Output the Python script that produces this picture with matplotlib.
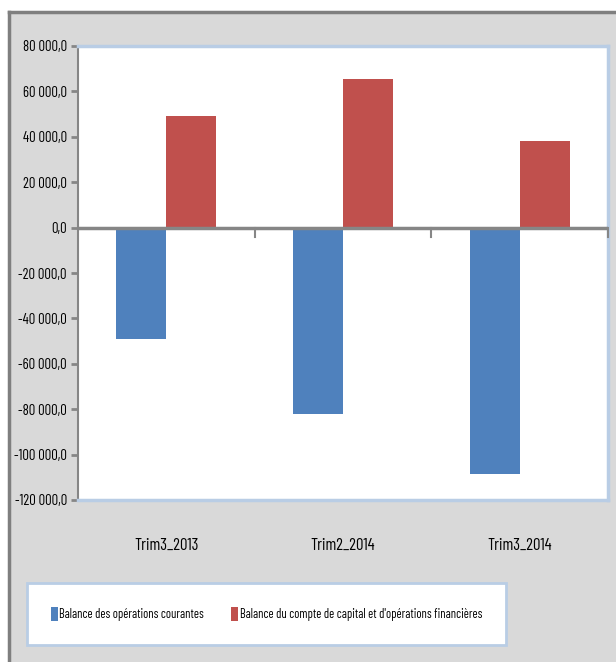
import matplotlib
matplotlib.use("Agg")
import matplotlib.pyplot as plt
from matplotlib.patches import Rectangle
from matplotlib.ticker import FuncFormatter, MultipleLocator
import numpy as np

categories = ["Trim3_2013", "Trim2_2014", "Trim3_2014"]
courantes = [-49000, -82000, -108400]
capital = [49000, 65600, 38000]
series_names = ["Balance des opérations courantes",
                "Balance du compte de capital et d'opérations financières"]

BLUE = "#4f81bd"
RED = "#c0504d"
GRID_BLUE = "#b9cde5"
AXIS_GRAY = "#868686"
FONT = ["Barlow Condensed", "DejaVu Sans"]

plt.rcParams["font.family"] = FONT


def fr_fmt(v, _pos):
    s = f"{abs(v):,.1f}".replace(",", " ").replace(".", ",")
    return ("-" if v < 0 else "") + s


fig = plt.figure(figsize=(6.16, 6.62), dpi=100)
fig.patch.set_facecolor("white")

# grey chart area with dark border on top and left (drawn in a background axes)
bg = fig.add_axes([0, 0, 1, 1], zorder=-1)
bg.set_xlim(0, 616)
bg.set_ylim(662, 0)
bg.axis("off")
bg.add_patch(Rectangle((9, 12), 607, 650, facecolor="#d9d9d9", edgecolor="none"))
bg.plot([9, 616], [12, 12], color="#7f7f7f", lw=2.5)
bg.plot([9, 9], [12, 662], color="#7f7f7f", lw=2.5)

ax = fig.add_axes([78 / 616, 1 - 500 / 662, 530 / 616, 454 / 662])
ax.set_facecolor("white")

x = np.arange(len(categories))
w = 0.283
ax.bar(x - w / 2, courantes, w, color=BLUE, label=series_names[0], zorder=2)
ax.bar(x + w / 2, capital, w, color=RED, label=series_names[1], zorder=2)

ax.set_xlim(-0.5, len(categories) - 0.5)
ax.set_ylim(-120000, 80000)
ax.yaxis.set_major_locator(MultipleLocator(20000))
ax.yaxis.set_major_formatter(FuncFormatter(fr_fmt))

for side in ["top", "bottom", "right"]:
    ax.spines[side].set_color(GRID_BLUE)
    ax.spines[side].set_linewidth(2.5)
ax.spines["left"].set_color(AXIS_GRAY)
ax.spines["left"].set_linewidth(1.5)

ax.tick_params(axis="y", length=5, width=2, color=AXIS_GRAY, labelsize=10.5, pad=3)
ax.set_xticks(x)
ax.set_xticklabels(categories)
ax.tick_params(axis="x", length=0, labelsize=12, pad=27)

# horizontal axis at zero with category separators
ax.axhline(0, color=AXIS_GRAY, lw=2.5, zorder=3)
for b in np.arange(0.5, len(categories), 1.0):
    ax.plot([b, b], [0, -4000], color=AXIS_GRAY, lw=1.5, zorder=3, clip_on=False)

leg = fig.legend(loc="center", bbox_to_anchor=(266.5 / 616, 1 - 614 / 662),
                 bbox_transform=fig.transFigure,
                 ncol=2, frameon=True, fancybox=False, fontsize=9,
                 handlelength=0.55, handleheight=1.45, handletextpad=0.1,
                 columnspacing=2.2, borderpad=1.9)
leg.get_frame().set_edgecolor(GRID_BLUE)
leg.get_frame().set_facecolor("white")
leg.get_frame().set_alpha(1)
leg.get_frame().set_linewidth(2)

fig.savefig("out.png", dpi=100)
